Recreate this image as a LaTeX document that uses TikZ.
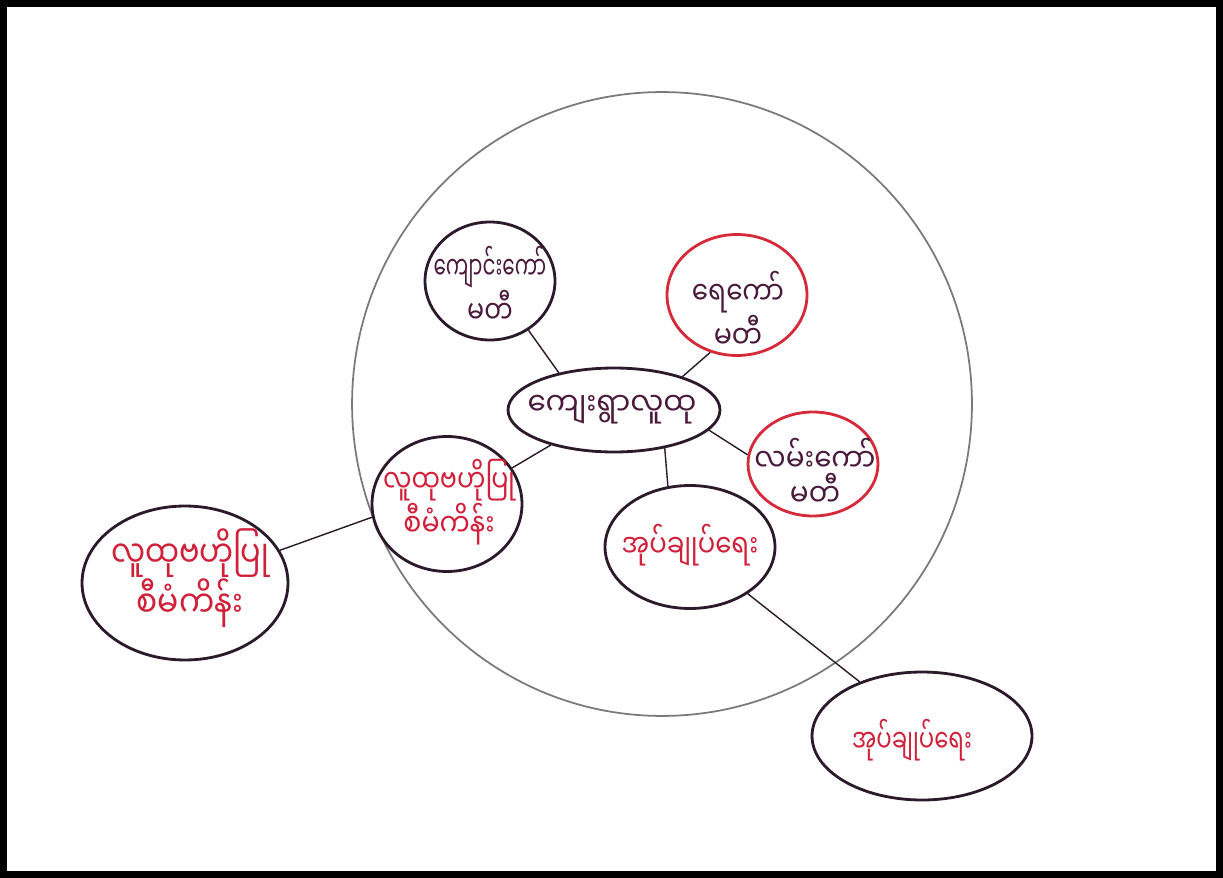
\documentclass[tikz,border=0pt]{standalone}
\usepackage{fontspec}
\usepackage{graphicx}
\newfontfamily\mm[Script=Myanmar]{Noto Sans Myanmar UI}
\usetikzlibrary{shapes.geometric}
\definecolor{ink}{HTML}{2A1A2A}
\definecolor{redink}{HTML}{D42A3A}
\definecolor{redtext}{HTML}{D0203A}
\definecolor{darktext}{HTML}{4A1A3A}
\definecolor{bigcirc}{HTML}{7A7A7A}
\newcommand{\sx}[2]{\scalebox{#1}[1]{#2}}
\tikzset{
  bub/.style={ellipse, draw=ink, line width=1.6pt, inner sep=0pt},
  redbub/.style={bub, draw=redink},
  lbl/.style={align=center, inner sep=0pt, font=\mm\fontsize{18}{20}\selectfont},
  redlbl/.style={lbl, text=redtext},
  darklbl/.style={lbl, text=darktext},
  link/.style={draw=ink, line width=0.8pt}
}
\begin{document}
\begin{tikzpicture}[x=0.02cm, y=-0.02cm]
\useasboundingbox (0,0) rectangle (1223,878);
\fill[black] (0,0) rectangle (1223,878);
\fill[white] (7,7) rectangle (1216,871);
% big circle
\node[ellipse, draw=bigcirc, line width=1pt, minimum width=12.4cm, minimum height=12.48cm, inner sep=0pt] (big) at (662,404) {};
% bubbles
\node[bub, minimum width=2.6cm, minimum height=2.36cm] (school) at (490,281) {};
\node[redbub, minimum width=2.8cm, minimum height=2.42cm] (water) at (737,295) {};
\node[bub, minimum width=4.24cm, minimum height=1.68cm] (village) at (614,410) {};
\node[redbub, minimum width=2.6cm, minimum height=2.08cm] (road) at (813,464) {};
\node[bub, minimum width=3.0cm, minimum height=2.7cm] (cdd) at (447,504) {};
\node[bub, minimum width=3.4cm, minimum height=2.46cm] (admin) at (690,547) {};
\node[bub, minimum width=4.12cm, minimum height=3.08cm] (cddout) at (185,583) {};
\node[bub, minimum width=4.4cm, minimum height=2.56cm] (adminout) at (922,736) {};
% labels
\node[darklbl] (schoolt) at (490,285) {\sx{0.63}{ကျောင်းကော်}\\\sx{0.8}{မတီ}};
\node[darklbl] (watert) at (738,310) {\sx{0.83}{ရေကော်}\\\sx{0.85}{မတီ}};
\node[darklbl] (villaget) at (612,410) {\sx{0.93}{ကျေးရွာလူထု}};
\node[darklbl] (roadt) at (815,472) {\sx{0.88}{လမ်းကော်}\\\sx{0.88}{မတီ}};
\node[redlbl] (cddt) at (449,502) {\sx{0.8}{လူထုဗဟိုပြု}\\\sx{0.85}{စီမံကိန်း}};
\node[redlbl] (admint) at (690,545) {\sx{0.82}{အုပ်ချုပ်ရေး}};
\node[redlbl, font=\mm\fontsize{21}{24}\selectfont] (cddoutt) at (190,578) {\sx{0.82}{လူထုဗဟိုပြု}\\\sx{0.85}{စီမံကိန်း}};
\node[redlbl] (adminoutt) at (912,740) {\sx{0.72}{အုပ်ချုပ်ရေး}};
% connectors
\draw[link] (school.308) -- (village.146);
\draw[link] (water.245) -- (village.26);
\draw[link] (village.348) -- (road.172);
\draw[link] (village.209) -- (cdd.29);
\draw[link] (village.323) -- (admin.110);
\draw[link] (cdd.190) -- (cddout.19);
\draw[link] (admin.321) -- (adminout.139);
\end{tikzpicture}
\end{document}
